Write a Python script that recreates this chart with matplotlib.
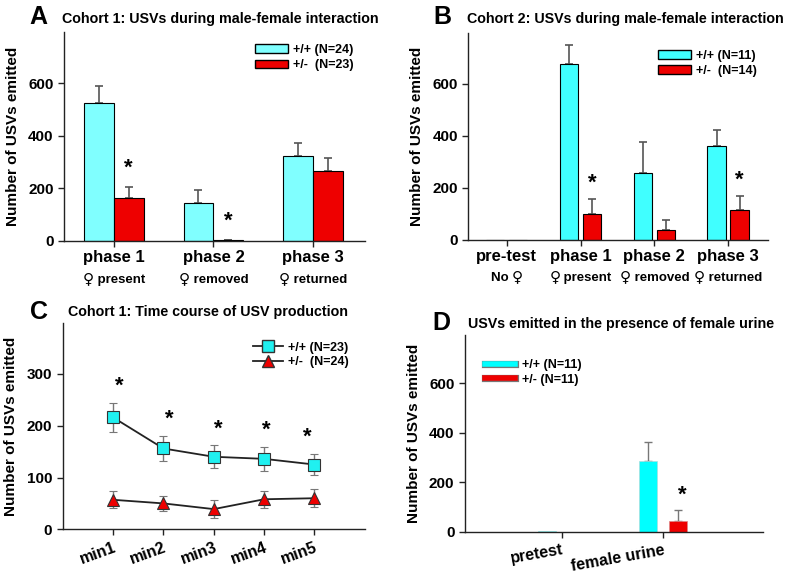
import matplotlib
matplotlib.use("Agg")
import matplotlib.pyplot as plt
import matplotlib.transforms as mtransforms
import matplotlib.patheffects as pe
from matplotlib.lines import Line2D
from matplotlib.patches import Patch
import numpy as np

plt.rcParams['font.family'] = ['Liberation Sans', 'DejaVu Sans']
plt.rcParams['font.weight'] = 'bold'

# ---------------- Data ----------------
# Panel A
a_cats = ["phase 1", "phase 2", "phase 3"]
a_sub = ["\u2640 present", "\u2640 removed", "\u2640 returned"]
a_wt = [523, 145, 324]
a_wt_err = [67, 50, 47]
a_het = [162, 3, 264]
a_het_err = [43, 2, 52]
a_stars = [1, 1, 0]
a_leg = ["+/+ (N=24)", "+/-  (N=23)"]

# Panel B
b_cats = ["pre-test", "phase 1", "phase 2", "phase 3"]
b_sub = ["No \u2640", "\u2640 present", "\u2640 removed", "\u2640 returned"]
b_wt = [0, 678, 257, 361]
b_wt_err = [0, 72, 119, 61]
b_het = [0, 99, 39, 117]
b_het_err = [0, 60, 36, 53]
b_stars = [0, 1, 0, 1]
b_leg = ["+/+ (N=11)", "+/-  (N=14)"]

# Panel C
c_cats = ["min1", "min2", "min3", "min4", "min5"]
c_wt = [216, 156, 140, 136, 125]
c_wt_err = [28, 24, 22, 23, 21]
c_het = [57, 50, 39, 58, 60]
c_het_err = [16, 14, 17, 16, 17]
c_stars = [1, 1, 1, 1, 1]
c_leg = ["+/+ (N=23)", "+/-  (N=24)"]

# Panel D
d_cats = ["pretest", "female urine"]
d_wt = [2, 285]
d_wt_err = [0, 78]
d_het = [0, 44]
d_het_err = [0, 43]
d_stars = [0, 1]
d_leg = ["+/+ (N=11)", "+/- (N=11)"]

RED = "#EE0000"
ERRC = "#555555"
FEM = "\u2640"

fig = plt.figure(figsize=(8.0, 5.79), dpi=100)
renderer = fig.canvas.get_renderer()
pending = []


def style_axes(ax):
    for s in ["top", "right"]:
        ax.spines[s].set_visible(False)
    for s in ["left", "bottom"]:
        ax.spines[s].set_color("#222222")
        ax.spines[s].set_linewidth(1.0)
    ax.tick_params(axis="both", direction="out", length=4, width=1, colors="#222222",
                   labelcolor="black", labelsize=11)
    for lab in ax.get_yticklabels():
        lab.set_fontweight("bold")


def mixed_label(ax, xi, y, s, size):
    """Centered label where the female sign is drawn with DejaVu Sans."""
    trans = mtransforms.blended_transform_factory(ax.transData, ax.transAxes)
    parts = []
    chunks = s.split(FEM)
    for i, ch in enumerate(chunks):
        if i > 0:
            parts.append((FEM, ["DejaVu Sans"], size + 1.5))
        if ch:
            parts.append((ch, ["Liberation Sans"], size))
    texts = []
    for txt, fam, sz in parts:
        t = ax.text(xi, y, txt, transform=trans, ha="left", va="baseline",
                    fontsize=sz, fontweight="bold", family=fam)
        texts.append(t)
    pending.append((texts, trans))


def finalize_labels():
    for texts, trans in pending:
        widths = []
        for t in texts:
            bb = t.get_window_extent(renderer=renderer)
            widths.append(bb.width)
        total = sum(widths)
        x0 = -total / 2.0
        for t, w in zip(texts, widths):
            t.set_transform(mtransforms.offset_copy(trans, fig=fig, x=x0 * 72.0 / fig.dpi,
                                                    y=0, units="points"))
            x0 += w


def bar_panel(ax, cats, subs, wt, wte, het, hete, stars, width, offs, wtcol,
              ylim, xlim, star_dy):
    x = np.arange(len(cats))
    ax.bar(x + offs[0], wt, width, color=wtcol, edgecolor="black", linewidth=0.8, zorder=2)
    ax.bar(x + offs[1], het, width, color=RED, edgecolor="black", linewidth=0.8, zorder=2)
    for xi, v, e in zip(x, wt, wte):
        if e > 0:
            ax.errorbar(xi + offs[0], v, yerr=[[0], [e]], fmt="none", ecolor=ERRC,
                        elinewidth=1.2, capsize=3, capthick=1.2, zorder=1)
    for xi, v, e in zip(x, het, hete):
        if e > 0:
            ax.errorbar(xi + offs[1], v, yerr=[[0], [e]], fmt="none", ecolor=ERRC,
                        elinewidth=1.2, capsize=3, capthick=1.2, zorder=1)
    for xi, v, e, s in zip(x, het, hete, stars):
        if s:
            ax.text(xi + offs[1], v + e + star_dy, "*", ha="center", va="center",
                    fontsize=16, fontweight="bold")
    ax.set_xlim(*xlim)
    ax.set_ylim(*ylim)
    ax.set_yticks([0, 200, 400, 600])
    ax.set_xticks(x)
    ax.set_xticklabels([""] * len(cats))
    style_axes(ax)
    trans = mtransforms.blended_transform_factory(ax.transData, ax.transAxes)
    for xi, c, s in zip(x, cats, subs):
        ax.text(xi, -0.08, c, transform=trans, ha="center", va="center",
                fontsize=12, fontweight="bold")
        mixed_label(ax, xi, -0.20, s, 9.5)


# ---------------- Panel A ----------------
axA = fig.add_axes([0.080, 0.584, 0.376, 0.361])
bar_panel(axA, a_cats, a_sub, a_wt, a_wt_err, a_het, a_het_err, a_stars,
          0.30, (-0.15, 0.15), "#80FFFF", (0, 795), (-0.50, 2.52), 70)
axA.set_ylabel("Number of USVs emitted", fontsize=11, fontweight="bold", labelpad=6)
axA.legend(handles=[Patch(facecolor="#80FFFF", edgecolor="black", label=a_leg[0]),
                    Patch(facecolor=RED, edgecolor="black", label=a_leg[1])],
           loc="upper right", bbox_to_anchor=(1.0, 0.995), frameon=False,
           handlelength=2.6, handleheight=0.7, handletextpad=0.4, labelspacing=0.25,
           prop={"weight": "bold", "size": 9})
fig.text(0.037, 0.970, "A", fontsize=18, fontweight="bold", ha="left", va="center")
fig.text(0.078, 0.968, "Cohort 1: USVs during male-female interaction", fontsize=10.3,
         fontweight="bold", ha="left", va="center")

# ---------------- Panel B ----------------
axB = fig.add_axes([0.5854, 0.5855, 0.3746, 0.357])
bar_panel(axB, b_cats, b_sub, b_wt, b_wt_err, b_het, b_het_err, b_stars,
          0.25, (-0.155, 0.155), "#40FFFF", (0, 795), (-0.52, 3.54), 60)
axB.set_ylabel("Number of USVs emitted", fontsize=11, fontweight="bold", labelpad=6)
axB.legend(handles=[Patch(facecolor="#40FFFF", edgecolor="black", label=b_leg[0]),
                    Patch(facecolor=RED, edgecolor="black", label=b_leg[1])],
           loc="upper right", bbox_to_anchor=(1.0, 0.975), frameon=False,
           handlelength=2.6, handleheight=0.7, handletextpad=0.4, labelspacing=0.25,
           prop={"weight": "bold", "size": 9})
fig.text(0.542, 0.970, "B", fontsize=18, fontweight="bold", ha="left", va="center")
fig.text(0.584, 0.968, "Cohort 2: USVs during male-female interaction", fontsize=10.3,
         fontweight="bold", ha="left", va="center")

# ---------------- Panel C ----------------
axC = fig.add_axes([0.0784, 0.0858, 0.3776, 0.3562])
xc = np.arange(1, len(c_cats) + 1)
axC.errorbar(xc, c_wt, yerr=c_wt_err, color="#222222", lw=1.3, marker="s", ms=9,
             mfc="#20F0F0", mec="#333333", mew=0.8, ecolor="#777777", elinewidth=1.0,
             capsize=3, capthick=1.0, zorder=3)
axC.errorbar(xc, c_het, yerr=c_het_err, color="#222222", lw=1.3, marker="^", ms=9,
             mfc=RED, mec="#333333", mew=0.8, ecolor="#777777", elinewidth=1.0,
             capsize=3, capthick=1.0, zorder=3)
star_off_x = [0.13, 0.11, 0.10, 0.05, -0.14]
for xi, v, e, s, dx in zip(xc, c_wt, c_wt_err, c_stars, star_off_x):
    if s:
        axC.text(xi + dx, v + e + 32, "*", ha="center", va="center", fontsize=16,
                 fontweight="bold")
axC.set_xlim(0, 6)
axC.set_ylim(0, 398)
axC.set_yticks([0, 100, 200, 300])
axC.set_xticks(xc)
axC.set_xticklabels(c_cats, rotation=20, ha="right", rotation_mode="anchor")
style_axes(axC)
for lab in axC.get_xticklabels():
    lab.set_fontsize(11.5)
    lab.set_fontweight("bold")
axC.set_ylabel("Number of USVs emitted", fontsize=11, fontweight="bold", labelpad=6)
axC.legend(handles=[Line2D([], [], color="#222222", lw=1.3, marker="s", ms=9,
                           mfc="#20F0F0", mec="#333333", label=c_leg[0]),
                    Line2D([], [], color="#222222", lw=1.3, marker="^", ms=9,
                           mfc=RED, mec="#333333", label=c_leg[1])],
           loc="upper right", bbox_to_anchor=(0.985, 0.965), frameon=False,
           handlelength=2.4, handletextpad=0.4, labelspacing=0.2,
           prop={"weight": "bold", "size": 9})
fig.text(0.038, 0.462, "C", fontsize=18, fontweight="bold", ha="left", va="center")
fig.text(0.085, 0.461, "Cohort 1: Time course of USV production", fontsize=10.3,
         fontweight="bold", ha="left", va="center")

# ---------------- Panel D ----------------
axD = fig.add_axes([0.581, 0.0812, 0.3724, 0.3402])
xd = np.arange(len(d_cats))
axD.bar(xd - 0.145, d_wt, 0.18, color="#00FFFF", edgecolor="#AADDDD", linewidth=0.5, zorder=2)
axD.bar(xd + 0.15, d_het, 0.18, color=RED, edgecolor="#DD8888", linewidth=0.5, zorder=2)
for xi, v, e in zip(xd, d_wt, d_wt_err):
    if e > 0:
        axD.errorbar(xi - 0.145, v, yerr=[[0], [e]], fmt="none", ecolor="#777777",
                     elinewidth=1.0, capsize=3, capthick=1.0, zorder=1)
for xi, v, e in zip(xd, d_het, d_het_err):
    if e > 0:
        axD.errorbar(xi + 0.15, v, yerr=[[0], [e]], fmt="none", ecolor="#777777",
                     elinewidth=1.0, capsize=3, capthick=1.0, zorder=1)
for xi, v, e, s in zip(xd, d_het, d_het_err, d_stars):
    if s:
        axD.text(xi + 0.19, v + e + 60, "*", ha="center", va="center", fontsize=16,
                 fontweight="bold")
axD.set_xlim(-0.96, 1.99)
axD.set_ylim(0, 795)
axD.set_yticks([0, 200, 400, 600])
axD.set_xticks(xd)
axD.set_xticklabels(d_cats, rotation=10, ha="right", rotation_mode="anchor")
style_axes(axD)
for lab in axD.get_xticklabels():
    lab.set_fontsize(11.5)
    lab.set_fontweight("bold")
axD.set_ylabel("Number of USVs emitted", fontsize=11, fontweight="bold", labelpad=6)
stroke = [pe.Stroke(linewidth=5.2, foreground="#777777"), pe.Normal()]
axD.legend(handles=[Line2D([], [], color="#00FFFF", lw=4, path_effects=stroke,
                           label=d_leg[0]),
                    Line2D([], [], color=RED, lw=4, path_effects=stroke, label=d_leg[1])],
           loc="upper left", bbox_to_anchor=(0.03, 0.935), frameon=False,
           handlelength=2.4, handletextpad=0.6, labelspacing=0.2,
           prop={"weight": "bold", "size": 9})
fig.text(0.541, 0.442, "D", fontsize=18, fontweight="bold", ha="left", va="center")
fig.text(0.585, 0.441, "USVs emitted in the presence of female urine", fontsize=10.3,
         fontweight="bold", ha="left", va="center")

finalize_labels()
fig.savefig("out.png", dpi=100)
